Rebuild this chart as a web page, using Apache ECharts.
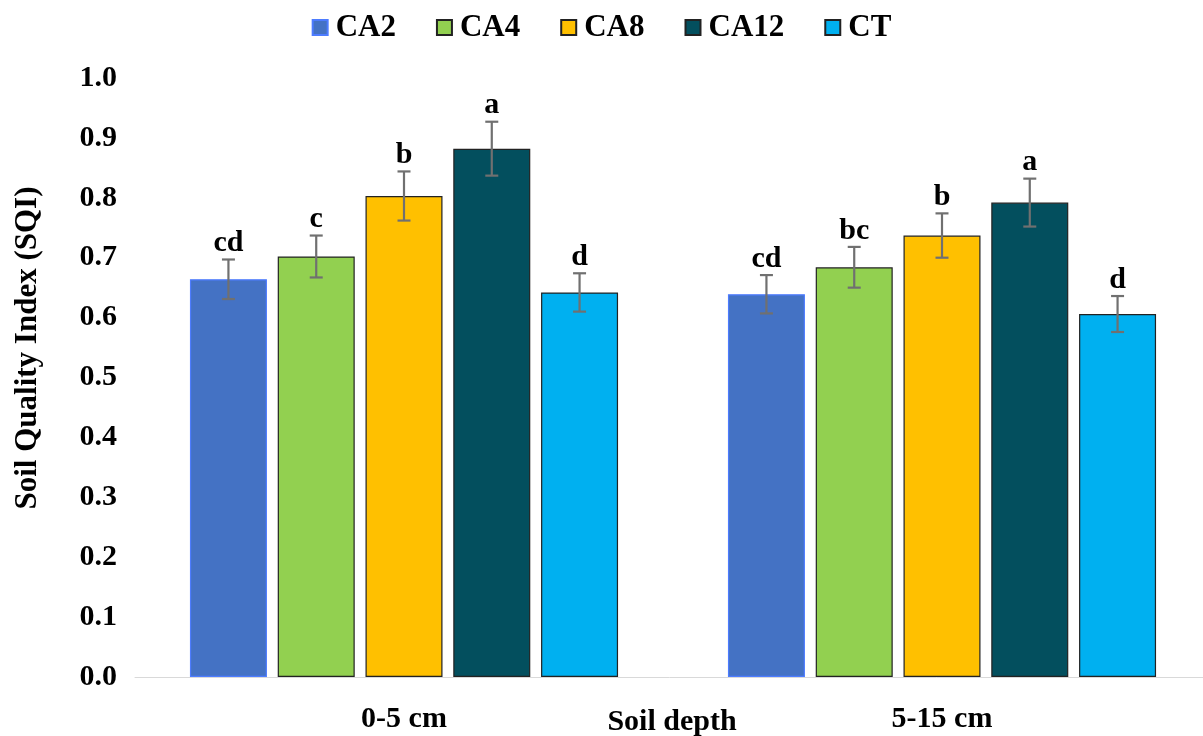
<!DOCTYPE html>
<html>
<head>
<meta charset="utf-8">
<script src="https://cdn.jsdelivr.net/npm/echarts@6/dist/echarts.min.js"></script>
<style>html,body{margin:0;padding:0;background:#fff;}#c{width:1203px;height:736px;}</style>
</head>
<body>
<div id="c"></div>
<script>
const categories = ['0-5 cm', '5-15 cm'];
const seriesNames = ['CA2', 'CA4', 'CA8', 'CA12', 'CT'];
const CA2 = [0.664, 0.639];
const CA4 = [0.702, 0.684];
const CA8 = [0.803, 0.737];
const CA12 = [0.882, 0.792];
const CT = [0.642, 0.606];
const errCA2 = [0.033, 0.032];
const errCA4 = [0.035, 0.034];
const errCA8 = [0.041, 0.037];
const errCA12 = [0.045, 0.040];
const errCT = [0.032, 0.030];
const letCA2 = ['cd', 'cd'];
const letCA4 = ['c', 'bc'];
const letCA8 = ['b', 'b'];
const letCA12 = ['a', 'a'];
const letCT = ['d', 'd'];
const yTicks = [0, 0.1, 0.2, 0.3, 0.4, 0.5, 0.6, 0.7, 0.8, 0.9, 1.0];

const values = [CA2, CA4, CA8, CA12, CT];
const errs = [errCA2, errCA4, errCA8, errCA12, errCT];
const letters = [letCA2, letCA4, letCA8, letCA12, letCT];
const colors = ['#4472C4', '#92D050', '#FFC000', '#034F5E', '#00B0F0'];
const borders = ['#4d7cff', '#222222', '#222222', '#222222', '#222222'];
const FONT = "'Liberation Serif', 'Times New Roman', serif";

const chart = echarts.init(document.getElementById('c'), null, {renderer: 'canvas'});

const series = [];
seriesNames.forEach((name, i) => {
  series.push({
    name: name,
    type: 'bar',
    data: values[i],
    barWidth: 77,
    barGap: '14%',
    barCategoryGap: '20%',
    itemStyle: {color: colors[i], borderColor: borders[i], borderWidth: 1.2},
    emphasis: {disabled: true}
  });
});

const nS = seriesNames.length;
seriesNames.forEach((name, i) => {
  series.push({
    type: 'custom',
    name: name + '_err',
    data: categories.map((c, j) => [j, values[i][j], errs[i][j], letters[i][j]]),
    z: 10,
    silent: true,
    renderItem: function (params, api) {
      const j = api.value(0);
      const v = api.value(1);
      const e = api.value(2);
      const bw = 77, gap = bw * 0.14;
      const total = nS * bw + (nS - 1) * gap;
      const c = api.coord([j, v]);
      const x = c[0] - total / 2 + i * (bw + gap) + bw / 2;
      const top = api.coord([j, v + e])[1];
      const bot = api.coord([j, v - e])[1];
      const cap = 6.5;
      const st = {stroke: '#707070', lineWidth: 2.2};
      return {
        type: 'group',
        children: [
          {type: 'line', shape: {x1: x, y1: top, x2: x, y2: bot}, style: st},
          {type: 'line', shape: {x1: x - cap, y1: top, x2: x + cap, y2: top}, style: st},
          {type: 'line', shape: {x1: x - cap, y1: bot, x2: x + cap, y2: bot}, style: st},
          {type: 'text', x: x, y: top - 1, style: {
            text: letters[i][j], fill: '#000', font: 'bold 30px ' + FONT,
            textAlign: 'center', textVerticalAlign: 'bottom'}}
        ]
      };
    }
  });
});

chart.setOption({
  animation: false,
  backgroundColor: '#fff',
  legend: {
    data: seriesNames,
    top: 7,
    left: 'center',
    itemWidth: 15,
    itemHeight: 15,
    itemGap: 40,
    icon: 'rect',
    textStyle: {fontFamily: FONT, fontWeight: 'bold', fontSize: 31, color: '#000', padding: [0, 0, 0, 3]}
  },
  grid: {left: 135, right: -8, top: 78, bottom: 59, containLabel: false, outerBoundsMode: 'none'},
  xAxis: {
    type: 'category',
    data: categories,
    axisLine: {show: true, lineStyle: {color: '#d9d9d9', width: 1}},
    axisTick: {show: false},
    axisLabel: {fontFamily: FONT, fontWeight: 'bold', fontSize: 30, color: '#000', margin: 27},
    splitLine: {show: false}
  },
  yAxis: {
    type: 'value',
    min: yTicks[0],
    max: yTicks[yTicks.length - 1],
    interval: 0.1,
    axisLine: {show: false},
    axisTick: {show: false},
    splitLine: {show: false},
    axisLabel: {fontFamily: FONT, fontWeight: 'bold', fontSize: 30, color: '#000', margin: 18,
      formatter: v => v.toFixed(1)}
  },
  graphic: [{
    type: 'text',
    x: 28, y: 348,
    rotation: Math.PI / 2,
    style: {text: 'Soil Quality Index (SQI)', font: 'bold 31px ' + FONT, fill: '#000',
      textAlign: 'center', textVerticalAlign: 'middle'}
  }, {
    type: 'text',
    x: 672, y: 722,
    style: {text: 'Soil depth', font: 'bold 30px ' + FONT, fill: '#000',
      textAlign: 'center', textVerticalAlign: 'middle'}
  }],
  series: series
});
</script>
</body>
</html>
